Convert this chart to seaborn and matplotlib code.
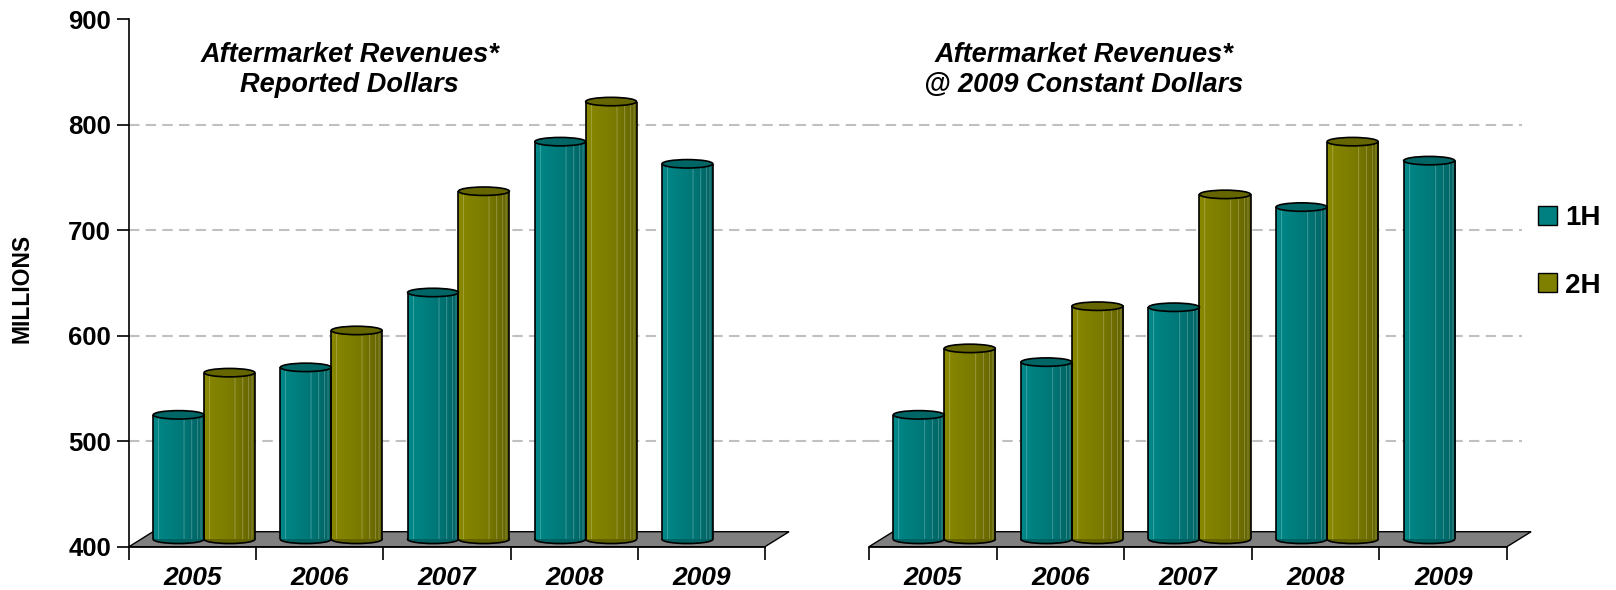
import numpy as np
import pandas as pd
import matplotlib
matplotlib.use("Agg")
import matplotlib.pyplot as plt
import seaborn as sns
from matplotlib.patches import Ellipse, Polygon, Patch
from matplotlib.colors import to_rgb

# ---------------- data ----------------
years = ["2005", "2006", "2007", "2008", "2009"]
halves = ["1H", "2H"]
reported_1h = [525, 570, 641, 784, 763]
reported_2h = [565, 605, 737, 822, np.nan]
constant_1h = [525, 575, 627, 722, 766]
constant_2h = [588, 628, 734, 784, np.nan]
panel_titles = ["Aftermarket Revenues*\nReported Dollars",
                "Aftermarket Revenues*\n@ 2009 Constant Dollars"]
y_ticks = [400, 500, 600, 700, 800, 900]
grid_levels = [500, 600, 700, 800]
y_label = "MILLIONS"

# ---------------- style ----------------
sns.set_theme(style="white")
plt.rcParams["font.family"] = ["Liberation Sans", "DejaVu Sans"]
for key in ("text.color", "axes.labelcolor", "xtick.color", "ytick.color",
            "axes.edgecolor"):
    plt.rcParams[key] = "black"

TEAL = "#008080"
OLIVE = "#808000"
palette = {"1H": TEAL, "2H": OLIVE}
shade = {
    TEAL: ("#008888", "#007878", "#006262", "#006565"),
    OLIVE: ("#888800", "#7a7a00", "#626200", "#666600"),
}

BASE = 407
EH = 8.0
FLOOR_DX = 0.189
FLOOR_DY = 14.2
XL = (-0.59, 4.41)


def blend(c, w, f):
    c = np.array(to_rgb(c)); w = np.array(to_rgb(w))
    return c * (1 - f) + w * f


def gradient(left, mid, right):
    n = 60
    t = np.linspace(0, 1, n)
    L, M, R = (np.array(to_rgb(c)) for c in (left, mid, right))
    cols = np.where(t[:, None] < 0.55,
                    L + (M - L) * (t[:, None] / 0.55),
                    M + (R - M) * ((t[:, None] - 0.55) / 0.45))
    for fpos in (0.10, 0.60, 0.76, 0.88, 0.94):
        k = int(fpos * n)
        cols[k] = blend(cols[k], "white", 0.28)
    return cols[None, :, :]


fig = plt.figure(figsize=(16.16, 5.90), dpi=100)
axes = [fig.add_axes([129 / 1616, 0.0734, 636 / 1616, 0.8939]),
        fig.add_axes([869 / 1616, 0.0734, 638 / 1616, 0.8939])]
grid_ext = [(869 - 129) / 636, (1522 - 869) / 638]
title_x = [0.347, 0.337]

for k, ax in enumerate(axes):
    v1 = reported_1h if k == 0 else constant_1h
    v2 = reported_2h if k == 0 else constant_2h
    df = pd.DataFrame({
        "year": years * 2,
        "half": ["1H"] * len(years) + ["2H"] * len(years),
        "value": list(v1) + list(v2),
    }).dropna()

    sns.barplot(data=df, x="year", y="value", hue="half", order=years,
                hue_order=halves, palette=palette, saturation=1, width=0.8,
                errorbar=None, legend=False, edgecolor="none", linewidth=0,
                ax=ax, zorder=3)
    bars = [p for p in ax.patches]

    # floor
    floor = Polygon([(XL[0], 400), (XL[1], 400), (XL[1] + FLOOR_DX, 400 + FLOOR_DY),
                     (XL[0] + FLOOR_DX, 400 + FLOOR_DY)], closed=True,
                    facecolor="#808080", edgecolor="black", lw=1.0,
                    zorder=1, clip_on=False)
    ax.add_patch(floor)

    # cylinders
    for p in bars:
        h = p.get_height()
        if not np.isfinite(h) or h <= 0:
            continue
        r, g, b = p.get_facecolor()[:3]
        key = TEAL if b > 0.25 else OLIVE
        cl, cm, cr, ctop = shade[key]
        x0 = p.get_x(); w = p.get_width(); cx = x0 + w / 2
        p.set_y(BASE); p.set_height(h - BASE)
        ax.imshow(gradient(cl, cm, cr), extent=[x0, x0 + w, BASE, h],
                  aspect="auto", zorder=3.1, interpolation="bilinear")
        ax.add_patch(Ellipse((cx, BASE), w, EH, facecolor=cr, edgecolor="black",
                             lw=1.2, zorder=2, clip_on=False))
        ax.vlines([x0, x0 + w], BASE, h, colors="black", lw=1.2, zorder=3.5)
        ax.add_patch(Ellipse((cx, h), w, EH, facecolor=ctop, edgecolor="black",
                             lw=1.2, zorder=4))

    # grid
    for gl in grid_levels:
        ax.axhline(gl, xmin=0, xmax=grid_ext[k], color="#c0c0c0", lw=1.5,
                   dashes=(5, 3), zorder=0.5, clip_on=False)

    ax.set_xlim(*XL)
    ax.set_ylim(400, 900)
    ax.set_xlabel(""); ax.set_ylabel("")
    ax.set_xticks([XL[0] + i for i in range(len(years) + 1)])
    ax.set_xticklabels([""] * (len(years) + 1))
    ax.set_xticks([i - 0.09 for i in range(len(years))], minor=True)
    ax.set_xticklabels(years, minor=True, fontsize=19, fontweight="bold",
                       fontstyle="italic")
    ax.tick_params(axis="x", which="major", direction="out", length=9,
                   width=1.2, color="black", bottom=True)
    ax.tick_params(axis="x", which="minor", length=0, pad=14, bottom=True)

    for s in ("top", "right"):
        ax.spines[s].set_visible(False)
    ax.spines["bottom"].set_color("black"); ax.spines["bottom"].set_linewidth(1.2)
    if k == 0:
        ax.set_yticks(y_ticks)
        ax.set_yticklabels([str(t) for t in y_ticks], fontsize=18.5,
                           fontweight="bold")
        ax.tick_params(axis="y", direction="out", length=9, width=1.2,
                       color="black", left=True, pad=4)
        ax.spines["left"].set_color("black"); ax.spines["left"].set_linewidth(1.2)
    else:
        ax.spines["left"].set_visible(False)
        ax.set_yticks(y_ticks)
        ax.tick_params(axis="y", left=False, labelleft=False)

    ax.text(title_x[k], (590 - 61.7) / 590 / 0.8939 - 0.0734 / 0.8939,
            panel_titles[k].split("\n")[0], transform=ax.transAxes,
            ha="center", va="baseline", fontsize=19.5, fontweight="bold",
            fontstyle="italic")
    ax.text(title_x[k], (590 - 91.7) / 590 / 0.8939 - 0.0734 / 0.8939,
            panel_titles[k].split("\n")[1], transform=ax.transAxes,
            ha="center", va="baseline", fontsize=19.5, fontweight="bold",
            fontstyle="italic")

fig.text(21.7 / 1616, (590 - 288) / 590, y_label, rotation=90, ha="center",
         va="center", fontsize=16.5, fontweight="bold")

handles = [Patch(facecolor=palette[hh], edgecolor="black", lw=1.0) for hh in halves]
fig.legend(handles, halves, loc="upper left",
           bbox_to_anchor=(1537.7 / 1616, (590 - 205) / 590), frameon=False,
           borderpad=0, borderaxespad=0, handlelength=0.68, handleheight=0.68,
           handletextpad=0.32, labelspacing=1.5,
           prop={"size": 20, "weight": "bold"})

fig.savefig("out.png", dpi=100)
